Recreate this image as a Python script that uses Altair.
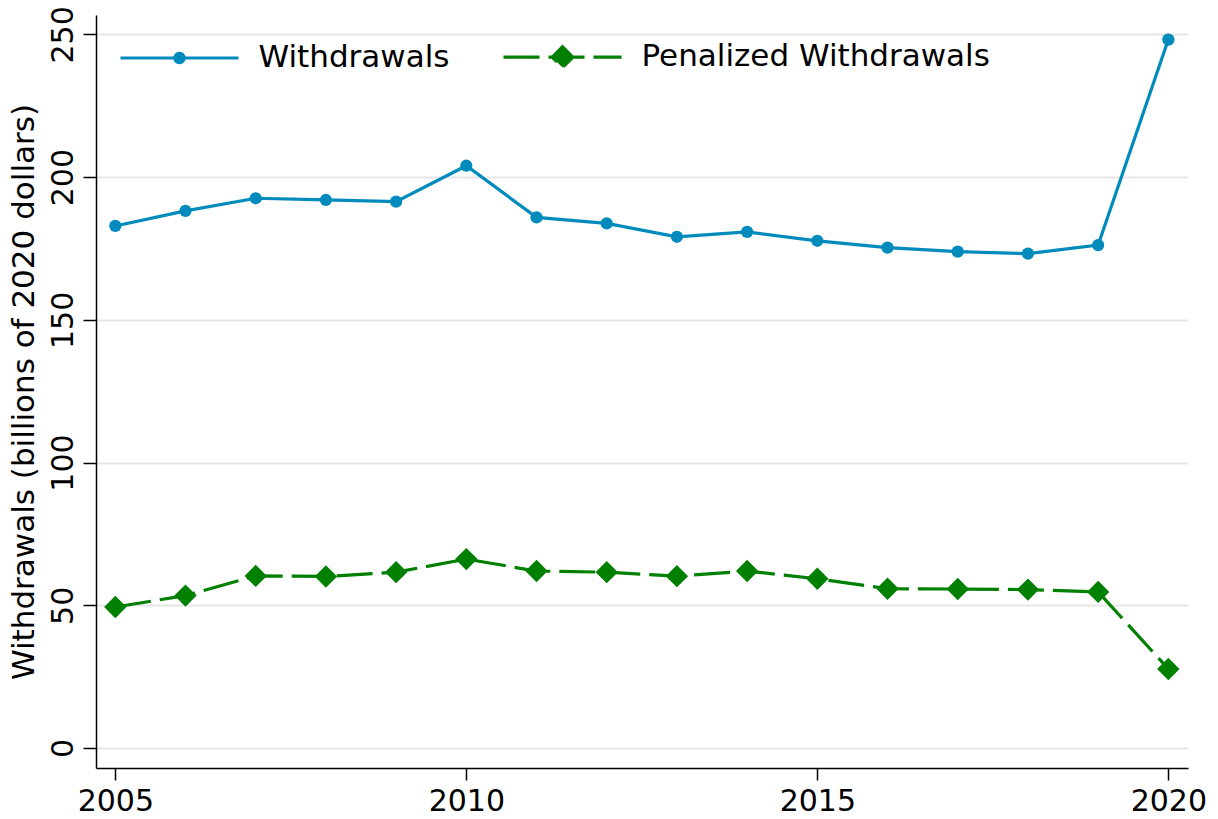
import altair as alt
import pandas as pd

years = list(range(2005, 2021))
withdrawals = [182.9, 188.2, 192.6, 192.0, 191.4, 204.0, 185.9, 183.8,
               179.1, 180.8, 177.7, 175.3, 173.9, 173.2, 176.2, 248.2]
penalized = [49.4, 53.4, 60.3, 60.1, 61.6, 66.2, 62.0, 61.6,
             60.2, 62.0, 59.3, 55.8, 55.7, 55.5, 54.7, 27.7]
series_names = ["Withdrawals", "Penalized Withdrawals"]
series_colors = ["#008bbc", "#008000"]
x_ticks = [2005, 2010, 2015, 2020]
y_ticks = [0, 50, 100, 150, 200, 250]
y_title = "Withdrawals (billions of 2020 dollars)"

df = pd.DataFrame({
    "year": years + years,
    "value": withdrawals + penalized,
    "series": [series_names[0]] * len(years) + [series_names[1]] * len(years),
})

FONT = "DejaVu Sans"
DASH = [36, 9]

x_enc = alt.X(
    "year:Q",
    scale=alt.Scale(domain=[2004.725, 2020.28], nice=False, zero=False),
    axis=alt.Axis(values=x_ticks, format="d", title=None, grid=False,
                  labelFontSize=30, labelPadding=6, tickSize=12,
                  labelFlush=False, labelOverlap=False),
)
y_enc = alt.Y(
    "value:Q",
    scale=alt.Scale(domain=[-7, 256.8], nice=False, zero=False),
    axis=alt.Axis(values=y_ticks, title=y_title, grid=True,
                  labelAngle=270, labelAlign="center", labelBaseline="alphabetic",
                  labelFontSize=30, labelPadding=11, tickSize=13,
                  titleFontSize=31, titleFontWeight="normal", titlePadding=8,
                  labelOverlap=False),
)

base = alt.Chart(df)

line_w = base.transform_filter(alt.datum.series == series_names[0]).mark_line(
    color=series_colors[0], strokeWidth=3.2).encode(x=x_enc, y=y_enc)
line_p = base.transform_filter(alt.datum.series == series_names[1]).mark_line(
    color=series_colors[1], strokeWidth=3.2, strokeDash=DASH, strokeCap="butt").encode(x=x_enc, y=y_enc)
pts_w = base.transform_filter(alt.datum.series == series_names[0]).mark_point(
    shape="circle", filled=True, size=150, color=series_colors[0], opacity=1).encode(x=x_enc, y=y_enc)
pts_p = base.transform_filter(alt.datum.series == series_names[1]).mark_point(
    shape="diamond", filled=True, size=500, color=series_colors[1], opacity=1).encode(x=x_enc, y=y_enc)

# legend symbols: line with marker (custom paths, unit coords scaled by sqrt(size)/2)
path_w = "M-1,0H1M0.078,0A0.078,0.078,0,1,1,-0.078,0A0.078,0.078,0,1,1,0.078,0Z"
path_p = "M-1,0H1M0.175,0L0,-0.175L-0.175,0L0,0.175Z"

leg = alt.Legend(
    orient="none", legendX=22.5, legendY=-19, direction="horizontal",
    title=None, symbolSize=13924, symbolStrokeWidth=3.2,
    labelFontSize=31, labelFont=FONT, labelColor="black", labelOffset=18,
    labelLimit=0, columnPadding=47, padding=0, symbolOpacity=1,
)

legend_layer = base.transform_filter("false").mark_point(
    filled=True, opacity=1, strokeWidth=3.2).encode(
    x=x_enc, y=y_enc,
    fill=alt.Fill("series:N", scale=alt.Scale(domain=series_names, range=series_colors), legend=leg),
    stroke=alt.Stroke("series:N", scale=alt.Scale(domain=series_names, range=series_colors), legend=leg),
    shape=alt.Shape("series:N", scale=alt.Scale(domain=series_names, range=[path_w, path_p]), legend=leg),
    strokeDash=alt.StrokeDash("series:N", scale=alt.Scale(domain=series_names, range=[[1, 0], DASH]), legend=leg),
)

chart = alt.layer(line_w, line_p, pts_w, pts_p, legend_layer).properties(
    width=1092, height=753,
    autosize=alt.AutoSizeParams(type="none"),
    padding={"left": 88, "top": 7, "right": 20, "bottom": 43},
    background="white",
).configure_view(stroke=None).configure_axis(
    labelFont=FONT, titleFont=FONT, labelColor="black", titleColor="black",
    domainColor="black", domainWidth=1.5, tickColor="black", tickWidth=1.5,
    gridColor="#e6e6e6", gridWidth=2,
)

chart.save("out.html", embed_options={"renderer": "svg", "actions": False})
